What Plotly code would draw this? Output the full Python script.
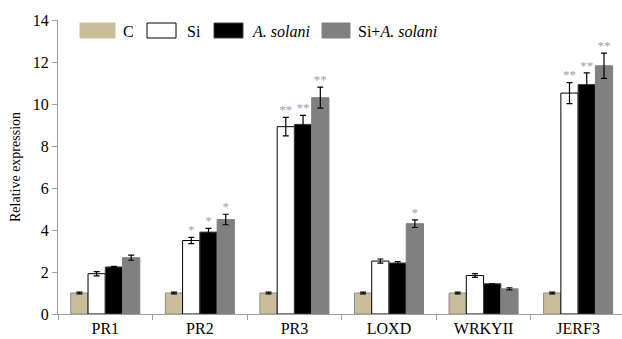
import plotly.graph_objects as go

genes = ["PR1", "PR2", "PR3", "LOXD", "WRKYII", "JERF3"]
series_names = ["C", "Si", "A. solani", "Si+A. solani"]
legend_labels = ["C", "Si", "<i>A. solani</i>", "Si+<i>A. solani</i>"]

c_vals = [1.0, 1.0, 1.0, 1.0, 1.0, 1.0]
c_err = [0.04, 0.04, 0.04, 0.04, 0.04, 0.04]
si_vals = [1.92, 3.5, 8.92, 2.52, 1.83, 10.52]
si_err = [0.1, 0.15, 0.44, 0.1, 0.09, 0.5]
as_vals = [2.24, 3.9, 9.03, 2.43, 1.44, 10.93]
as_err = [0.03, 0.18, 0.43, 0.06, 0.0, 0.55]
sias_vals = [2.68, 4.5, 10.3, 4.3, 1.2, 11.82]
sias_err = [0.12, 0.25, 0.5, 0.18, 0.05, 0.6]

si_sig = ["", "*", "**", "", "", "**"]
as_sig = ["", "*", "**", "", "", "**"]
sias_sig = ["", "*", "**", "*", "", "**"]

fills = ["#c8bf9a", "#ffffff", "#000000", "#808080"]
outlines = ["#8a8a8a", "#000000", "#404040", "#808080"]

values = [c_vals, si_vals, as_vals, sias_vals]
errors = [c_err, si_err, as_err, sias_err]
sigs = [None, si_sig, as_sig, sias_sig]

FONT = "Liberation Serif, Times New Roman, serif"
fig = go.Figure()

for i, name in enumerate(series_names):
    fig.add_trace(go.Bar(
        x=genes, y=values[i], name=name, offsetgroup=str(i), alignmentgroup="g",
        marker=dict(color=fills[i], line=dict(color=outlines[i], width=1)),
        error_y=dict(type="data", array=errors[i], color="#000000", thickness=1.2, width=3),
        showlegend=False,
    ))

for i in range(1, 4):
    tops = [v + e for v, e in zip(values[i], errors[i])]
    fig.add_trace(go.Scatter(
        x=genes, y=tops, mode="text", text=sigs[i], textposition="top center",
        offsetgroup=str(i), alignmentgroup="g", cliponaxis=False,
        textfont=dict(family=FONT, size=13, color="#9aa2b4"),
        showlegend=False, hoverinfo="skip",
    ))

# plot area in pixels
L, R, T, B = 58, 0, 20, 25
W, H = 622, 339
pw, ph = W - L - R, H - T - B

def px(x):
    return (x - L) / pw

def py(y):
    return (H - B - y) / ph

# custom legend
swatches = [(80, 115), (147, 176), (214, 243), (322, 350)]
text_x = [121, 185, 250, 356]
for i in range(4):
    x0, x1 = swatches[i]
    fig.add_shape(type="rect", xref="paper", yref="paper",
                  x0=px(x0), x1=px(x1), y0=py(38), y1=py(23),
                  fillcolor=fills[i], line=dict(color=outlines[i] if i != 0 else fills[i], width=1))
    fig.add_annotation(xref="paper", yref="paper", x=px(text_x[i]), y=py(31),
                       text=legend_labels[i], showarrow=False, xanchor="left", yanchor="middle",
                       font=dict(family=FONT, size=16, color="#000000"))

fig.update_layout(
    width=W, height=H,
    margin=dict(l=L, r=R, t=T, b=B, autoexpand=False),
    paper_bgcolor="white", plot_bgcolor="white",
    barmode="group", bargap=0.27, bargroupgap=0,
    scattermode="group", scattergap=0.27,
    font=dict(family=FONT, size=14, color="#000000"),
    showlegend=False,
)
fig.update_xaxes(
    range=[-0.5, 5.464], showline=True, linecolor="#a0a0a0", linewidth=1,
    ticks="outside", tickson="boundaries", ticklen=5, tickcolor="#a0a0a0",
    showgrid=False, automargin=False, tickfont=dict(family=FONT, size=16),
)
fig.update_yaxes(
    range=[0, 14], dtick=2, showline=True, linecolor="#a0a0a0", linewidth=1,
    ticks="outside", ticklen=5, tickcolor="#a0a0a0", showgrid=False, zeroline=False,
    automargin=False, tickfont=dict(family=FONT, size=16),
    title=dict(text="Relative expression", font=dict(family=FONT, size=14), standoff=8),
)

fig.write_html("out.html", config={"displayModeBar": False, "staticPlot": True},
               post_script="document.body.style.margin='0';document.body.style.overflow='hidden';")
